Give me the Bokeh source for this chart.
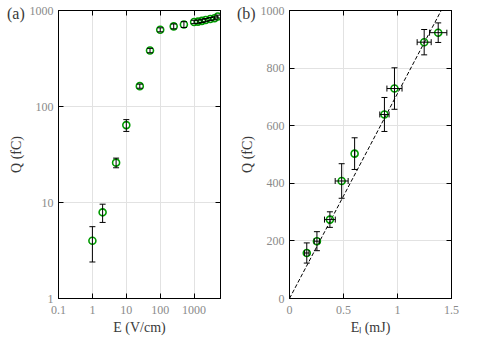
from bokeh.plotting import figure
from bokeh.layouts import row
from bokeh.models import (ColumnDataSource, Whisker, TeeHead, FixedTicker, LogAxis,
                          LinearAxis, Range1d, CustomJSTickFormatter, Div)
from bokeh.embed import file_html
from bokeh.resources import INLINE

# ---- panel (a) data ----
E_field = [1, 2, 5, 10, 25, 50, 100, 250, 500, 1000, 1300, 1700, 2200, 3000, 4000, 5000]
Q_a = [4.0, 7.9, 26, 64, 163, 383, 630, 684, 715, 760, 765, 780, 795, 815, 830, 865]
Q_a_err = [1.6, 1.7, 3, 9, 8, 20, 30, 40, 50, 30, 30, 30, 30, 30, 30, 30]
xticks_a = [0.1, 1, 10, 100, 1000]
yticks_a = [1, 10, 100, 1000]

# ---- panel (b) data ----
E_laser = [0.16, 0.254, 0.374, 0.483, 0.603, 0.879, 0.972, 1.247, 1.377]
E_laser_err = [0.02, 0.025, 0.05, 0.06, 0.0, 0.043, 0.07, 0.065, 0.08]
Q_b = [158, 199, 274, 408, 503, 639, 729, 890, 923]
Q_b_err = [35, 33, 27, 60, 55, 59, 72, 44, 34]
fit_slope = 712.0  # fC per mJ
fit_x = [0.0, 1.5]
xticks_b = [0, 0.5, 1, 1.5]
yticks_b = [0, 200, 400, 600, 800, 1000]

FONT = "Liberation Serif"
GREEN = "#009a00"
TICKC = "#8a8a8a"
LABELC = "#3a3a3a"
fmt = CustomJSTickFormatter(code="return tick.toString()")


def style(p, xt, yt, AxisCls):
    p.outline_line_color = "black"
    p.outline_line_width = 1
    for ax in list(p.xaxis) + list(p.yaxis):
        ax.formatter = fmt
        ax.major_label_text_font = FONT
        ax.major_label_text_font_size = "12px"
        ax.major_label_text_color = TICKC
        ax.axis_label_text_font = FONT
        ax.axis_label_text_font_size = "14px"
        ax.axis_label_text_font_style = "normal"
        ax.axis_label_text_color = LABELC
        ax.major_tick_in = 5
        ax.major_tick_out = 0
        ax.minor_tick_in = 0
        ax.minor_tick_out = 0
        ax.axis_line_color = "black"
        ax.major_tick_line_color = "black"
        ax.ticker = FixedTicker(ticks=xt if ax in p.xaxis else yt)
    p.xaxis.major_label_standoff = 7
    p.yaxis.major_label_standoff = 5
    p.yaxis.axis_label_standoff = 3
    p.xaxis.axis_label_standoff = 3
    p.xgrid.ticker = FixedTicker(ticks=xt)
    p.ygrid.ticker = FixedTicker(ticks=yt)
    p.grid.grid_line_color = "#e2e2e2"
    p.grid.grid_line_width = 1
    common = dict(major_label_text_font_size="1px", major_label_text_color=None,
                  major_label_standoff=0, major_tick_in=5, major_tick_out=0,
                  minor_tick_in=0, minor_tick_out=0, axis_line_color="black",
                  major_tick_line_color="black")
    top = AxisCls(ticker=FixedTicker(ticks=xt), **common)
    right = AxisCls(ticker=FixedTicker(ticks=yt), **common)
    p.add_layout(top, "above")
    p.add_layout(right, "right")


def panel_tag(text, left):
    return Div(text=text, styles={
        "position": "absolute", "left": f"{left}px", "top": "5px", "z-index": "10",
        "font-family": FONT, "font-size": "16px", "color": LABELC,
        "line-height": "18px", "margin": "0", "padding": "0"})


# ---------------- panel (a) ----------------
pa = figure(frame_width=162, frame_height=288, x_axis_type="log", y_axis_type="log",
            x_range=Range1d(0.1, 6000), y_range=Range1d(1, 1000),
            output_backend="svg", toolbar_location=None,
            min_border_left=58, min_border_right=16, min_border_top=10,
            min_border_bottom=44, x_axis_label="E (V/cm)", y_axis_label="Q (fC)")
style(pa, xticks_a, yticks_a, LogAxis)

src_a = ColumnDataSource(dict(
    x=E_field, y=Q_a,
    lo=[q - e for q, e in zip(Q_a, Q_a_err)],
    hi=[q + e for q, e in zip(Q_a, Q_a_err)]))
wa = Whisker(base="x", lower="lo", upper="hi", source=src_a, dimension="height",
             line_color="black", line_width=1, level="annotation",
             upper_head=TeeHead(size=6, line_color="black", line_width=1),
             lower_head=TeeHead(size=6, line_color="black", line_width=1))
pa.add_layout(wa)
pa.scatter("x", "y", source=src_a, marker="circle", size=7, fill_color=None,
           line_color=GREEN, line_width=1.6)

# ---------------- panel (b) ----------------
pb = figure(frame_width=162, frame_height=288,
            x_range=Range1d(0, 1.5), y_range=Range1d(0, 1000),
            output_backend="svg", toolbar_location=None,
            min_border_left=51, min_border_right=27, min_border_top=10,
            min_border_bottom=44, x_axis_label="E\u2097 (mJ)", y_axis_label="Q (fC)")
style(pb, xticks_b, yticks_b, LinearAxis)

pb.line(fit_x, [fit_slope * v for v in fit_x], line_color="black", line_width=1,
        line_dash="4 2")

src_b = ColumnDataSource(dict(
    x=E_laser, y=Q_b,
    ylo=[q - e for q, e in zip(Q_b, Q_b_err)],
    yhi=[q + e for q, e in zip(Q_b, Q_b_err)],
    xlo=[x - e for x, e in zip(E_laser, E_laser_err)],
    xhi=[x + e for x, e in zip(E_laser, E_laser_err)]))
for lo, hi, base, dim in (("ylo", "yhi", "x", "height"), ("xlo", "xhi", "y", "width")):
    w = Whisker(base=base, lower=lo, upper=hi, source=src_b, dimension=dim,
                line_color="black", line_width=1, level="annotation",
                upper_head=TeeHead(size=6, line_color="black", line_width=1),
                lower_head=TeeHead(size=6, line_color="black", line_width=1))
    pb.add_layout(w)
pb.scatter("x", "y", source=src_b, marker="circle", size=7, fill_color=None,
           line_color=GREEN, line_width=1.6)

layout = row(pa, pb, panel_tag("(a)", 7), panel_tag("(b)", 237))
open("out.html", "w").write(file_html(layout, INLINE))
